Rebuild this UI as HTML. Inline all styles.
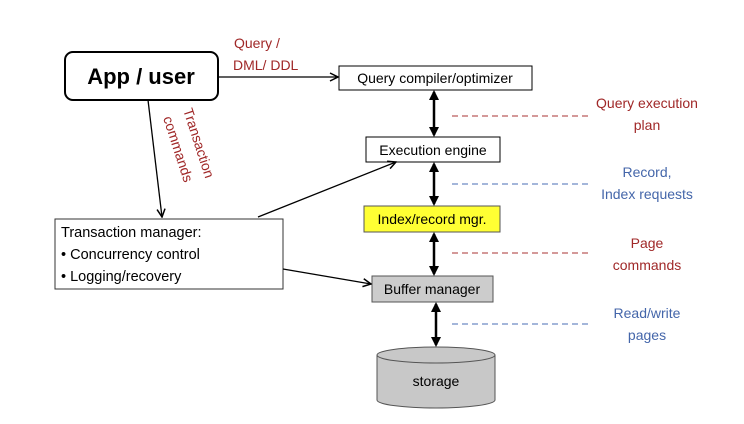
<!DOCTYPE html>
<html><head><style>body{margin:0;background:#fff}svg{display:block}</style></head><body>
<svg width="744" height="424" xmlns="http://www.w3.org/2000/svg" font-family="Liberation Sans, sans-serif">
<defs>
<marker id="a" markerWidth="10" markerHeight="10" refX="9" refY="5" orient="auto" markerUnits="userSpaceOnUse"><path d="M1,1 L9,5 L1,9" fill="none" stroke="#000" stroke-width="1.5"/></marker>
<marker id="b" markerWidth="10" markerHeight="10" refX="8" refY="5" orient="auto-start-reverse" markerUnits="userSpaceOnUse"><path d="M0,0 L10,5 L0,10 z" fill="#000"/></marker>
</defs>
<rect x="65" y="52" width="153" height="48" rx="8" fill="#fff" stroke="#000" stroke-width="2"/>
<text x="141" y="84" text-anchor="middle" font-size="22" font-weight="bold">App / user</text>
<rect x="339" y="66" width="193" height="24" fill="#fff" stroke="#000"/>
<text x="435" y="83" text-anchor="middle" font-size="14">Query compiler/optimizer</text>
<rect x="366" y="137" width="134" height="25" fill="#fff" stroke="#000"/>
<text x="433" y="155" text-anchor="middle" font-size="14">Execution engine</text>
<rect x="364" y="206" width="136" height="26" fill="#ffff33" stroke="#555"/>
<text x="432" y="224" text-anchor="middle" font-size="14">Index/record mgr.</text>
<rect x="372" y="276" width="121" height="26" fill="#ccc" stroke="#555"/>
<text x="432" y="294" text-anchor="middle" font-size="14">Buffer manager</text>
<path d="M377,355 L377,400 A59,8 0 0 0 495,400 L495,355" fill="#c8c8c8" stroke="#555"/>
<ellipse cx="436" cy="355" rx="59" ry="8" fill="#c8c8c8" stroke="#555"/>
<text x="436" y="386" text-anchor="middle" font-size="14">storage</text>
<rect x="55" y="219" width="228" height="70" fill="#fff" stroke="#333"/>
<text x="61" y="237" font-size="14.5">Transaction manager:</text>
<text x="61" y="259" font-size="14.5">• Concurrency control</text>
<text x="61" y="281" font-size="14.5">• Logging/recovery</text>
<g stroke="#000" stroke-width="1.3" fill="none">
<line x1="218" y1="77" x2="338" y2="77" marker-end="url(#a)"/>
<line x1="148" y1="100" x2="162" y2="217" marker-end="url(#a)"/>
<line x1="258" y1="217" x2="396" y2="162" marker-end="url(#a)"/>
<line x1="283" y1="269" x2="371" y2="284" marker-end="url(#a)"/>
</g>
<g stroke="#000" stroke-width="2.5">
<line x1="434" y1="92" x2="434" y2="135" marker-start="url(#b)" marker-end="url(#b)"/>
<line x1="434" y1="164" x2="434" y2="204" marker-start="url(#b)" marker-end="url(#b)"/>
<line x1="434" y1="234" x2="434" y2="274" marker-start="url(#b)" marker-end="url(#b)"/>
<line x1="436" y1="304" x2="436" y2="345" marker-start="url(#b)" marker-end="url(#b)"/>
</g>
<g stroke-width="1" stroke-dasharray="6,4">
<line x1="452" y1="116" x2="592" y2="116" stroke="#a33"/>
<line x1="452" y1="184" x2="592" y2="184" stroke="#4a6db5"/>
<line x1="452" y1="253" x2="592" y2="253" stroke="#a33"/>
<line x1="452" y1="324" x2="592" y2="324" stroke="#4a6db5"/>
</g>
<g font-size="14" text-anchor="middle" fill="#a02828">
<text x="647" y="108">Query execution</text><text x="647" y="130">plan</text>
<text x="647" y="248">Page</text><text x="647" y="270">commands</text>
</g>
<g font-size="14" text-anchor="middle" fill="#4466aa">
<text x="647" y="177">Record,</text><text x="647" y="199">Index requests</text>
<text x="647" y="318">Read/write</text><text x="647" y="340">pages</text>
</g>
<g font-size="14" fill="#a02828">
<text x="234" y="48">Query /</text><text x="233" y="70">DML/ DDL</text>
<text transform="translate(183,110) rotate(72)">Transaction</text>
<text transform="translate(163,118) rotate(72)">commands</text>
</g>
</svg>
</body></html>
